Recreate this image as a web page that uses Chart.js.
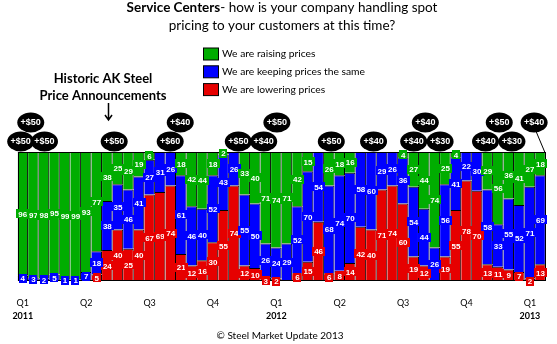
<!DOCTYPE html>
<html>
<head>
<meta charset="utf-8">
<script src="https://cdn.jsdelivr.net/npm/chart.js@4.4.1/dist/chart.umd.min.js"></script>
<style>
  html, body { margin: 0; padding: 0; background: #fff; }
</style>
</head>
<body>
<canvas id="myChart" width="557" height="344"></canvas>
<script>
// survey results, % of respondents, one entry per survey (50 surveys, Q1 2011 - Q1 2013)
const raising = [96, 97, 98, 95, 99, 99, 93, 77, 38, 25, 29, 19, 6, 0, 0, 18, 42, 44, 18, 2,
    0, 33, 40, 71, 74, 71, 42, 15, 0, 26, 18, 16, 0, 0, 0, 0, 4, 27, 44, 74,
    25, 4, 0, 0, 29, 56, 36, 41, 27, 18];
const keeping = [4, 3, 2, 5, 1, 1, 7, 18, 38, 35, 46, 41, 27, 31, 26, 61, 46, 40, 52, 43,
    26, 55, 50, 26, 24, 29, 52, 70, 54, 68, 74, 70, 58, 60, 29, 26, 36, 54, 44, 26,
    56, 41, 22, 30, 58, 33, 55, 52, 71, 69];
const lowering = [0, 0, 0, 0, 0, 0, 0, 5, 24, 40, 25, 40, 67, 69, 74, 21, 12, 16, 30, 55,
    74, 12, 10, 3, 2, 0, 6, 15, 46, 6, 8, 14, 42, 40, 71, 74, 60, 19, 12, 0,
    19, 55, 78, 70, 13, 11, 9, 7, 2, 13];

// tick labels, one every 6 surveys
const quarterTicks = ['Q1', 'Q2', 'Q3', 'Q4', 'Q1', 'Q2', 'Q3', 'Q4', 'Q1'];
const yearTicks = ['2011', '', '', '', '2012', '', '', '', '2013'];

// AK Steel price announcements (position in survey index units, row 0 = lower, 1 = upper)
const announcePos = [-0.2, 0.75, 2.05, 8.65, 13.95, 14.9, 20.4, 22.8, 24.05, 29.2, 33.2, 37.0, 38.1, 39.5, 43.8, 45.1, 46.3, 48.4];
const announceRow = [0, 1, 0, 0, 0, 1, 0, 0, 1, 0, 0, 0, 1, 0, 0, 1, 0, 1];
const announceText = ['+$50', '+$50', '+$50', '+$50', '+$60', '+$40', '+$50', '+$40', '+$50', '+$50', '+$40', '+$40', '+$40', '+$30', '+$40', '+$50', '+$30', '+$40'];

const green = '#00AD00';
const blue = '#0000FF';
const red = '#E60000';

const categories = raising.map((v, i) => i % 6 === 0 ? quarterTicks[i / 6] : '');

const textFont = 'Lato, "Liberation Sans", sans-serif';

const decorPlugin = {
    id: 'decor',
    afterDatasetsDraw(chart) {
        const ctx = chart.ctx;
        const area = chart.chartArea;
        ctx.save();

        // plot frame
        ctx.strokeStyle = '#000';
        ctx.lineWidth = 1;
        ctx.strokeRect(Math.round(area.left) + 0.5, Math.round(area.top) + 0.5,
            Math.round(area.right - area.left) - 1, Math.round(area.bottom - area.top) - 1);

        // value labels
        ctx.font = 'bold 8px "Liberation Sans", Arial, sans-serif';
        ctx.textAlign = 'center';
        ctx.textBaseline = 'middle';
        chart.data.datasets.forEach((ds, di) => {
            const meta = chart.getDatasetMeta(di);
            meta.data.forEach((bar, i) => {
                const v = ds.data[i];
                if (!v) return;
                let cy = (bar.y + bar.base) / 2;
                if (v < 5 && di === 0) cy += 1.5;
                const label = String(v);
                const w = ctx.measureText(label).width + 4;
                const h = 9;
                ctx.fillStyle = ds.backgroundColor;
                ctx.fillRect(Math.round(bar.x - w / 2), Math.round(cy - h / 2), Math.round(w), h);
                ctx.fillStyle = '#fff';
                ctx.fillText(label, bar.x, Math.round(cy) + 0.5);
            });
        });
        ctx.restore();
    },
    afterDraw(chart) {
        const ctx = chart.ctx;
        const area = chart.chartArea;
        const xs = chart.scales.x;
        ctx.save();

        // title
        ctx.fillStyle = '#000';
        ctx.textBaseline = 'middle';
        ctx.textAlign = 'left';
        const boldPart = 'Service Centers';
        const restPart = '- how is your company handling spot';
        ctx.font = 'bold 13.5px ' + textFont;
        const wb = ctx.measureText(boldPart).width;
        ctx.font = '13.5px ' + textFont;
        const wr = ctx.measureText(restPart).width;
        let tx = 282 - (wb + wr) / 2;
        ctx.font = 'bold 13.5px ' + textFont;
        ctx.fillText(boldPart, tx, 8);
        ctx.font = '13.5px ' + textFont;
        ctx.fillText(restPart, tx + wb, 8);
        ctx.textAlign = 'center';
        ctx.fillText('pricing to your customers at this time?', 282, 26);

        // legend
        const legendItems = [
            ['We are raising prices', green],
            ['We are keeping prices the same', blue],
            ['We are lowering prices', red]
        ];
        ctx.font = '10.3px ' + textFont;
        ctx.textAlign = 'left';
        legendItems.forEach((it, k) => {
            const y = 54 + k * 17.8;
            ctx.fillStyle = it[1];
            ctx.fillRect(203.5, y - 6, 15, 12);
            ctx.strokeStyle = '#000';
            ctx.lineWidth = 1;
            ctx.strokeRect(203.5, y - 6, 15, 12);
            ctx.fillStyle = '#000';
            ctx.fillText(it[0], 222, y);
        });

        // side caption + arrow
        ctx.font = 'bold 13px ' + textFont;
        ctx.textAlign = 'center';
        ctx.fillText('Historic AK Steel', 103, 79);
        ctx.fillText('Price Announcements', 103, 96);
        const ax = Math.round(xs.getPixelForValue(8.1)) + 0.5;
        ctx.strokeStyle = '#000';
        ctx.lineWidth = 1.5;
        ctx.beginPath();
        ctx.moveTo(ax, 103);
        ctx.lineTo(ax, 120);
        ctx.moveTo(ax - 3.5, 115);
        ctx.lineTo(ax, 120);
        ctx.lineTo(ax + 3.5, 115);
        ctx.stroke();

        // year row under the quarter ticks
        ctx.fillStyle = '#000';
        ctx.font = 'bold 9px ' + textFont;
        yearTicks.forEach((y, k) => {
            if (y) ctx.fillText(y, xs.getPixelForValue(k * 6), area.bottom + 34.6);
        });

        // announcement bubbles
        ctx.font = 'bold 9px "Liberation Sans", Arial, sans-serif';
        announcePos.forEach((p, k) => {
            const bx = xs.getPixelForValue(p);
            const by = area.top - (announceRow[k] ? 29.5 : 10.5);
            if (k === announcePos.length - 1) {
                ctx.strokeStyle = '#000';
                ctx.lineWidth = 1;
                ctx.beginPath();
                ctx.moveTo(bx + 2, by + 9);
                ctx.lineTo(area.right - 1, area.top);
                ctx.stroke();
            }
            ctx.fillStyle = '#000';
            ctx.beginPath();
            ctx.ellipse(bx, by, 13.5, 10, 0, 0, Math.PI * 2);
            ctx.fill();
            ctx.fillStyle = '#fff';
            ctx.fillText(announceText[k], bx, by + 0.5);
        });

        // footer
        ctx.fillStyle = '#000';
        ctx.font = '10px ' + textFont;
        ctx.fillText('\u00A9 Steel Market Update 2013', 280, 336);
        ctx.restore();
    }
};

const ctx = document.getElementById('myChart').getContext('2d');
new Chart(ctx, {
    type: 'bar',
    data: {
        labels: categories,
        datasets: [
            { label: 'We are lowering prices', data: lowering, backgroundColor: red },
            { label: 'We are keeping prices the same', data: keeping, backgroundColor: blue },
            { label: 'We are raising prices', data: raising, backgroundColor: green }
        ].map(d => Object.assign(d, {
            borderColor: '#000',
            borderWidth: { top: 1, right: 1, bottom: 0, left: 0 },
            borderSkipped: false,
            barPercentage: 1,
            categoryPercentage: 1,
            inflateAmount: 0
        }))
    },
    options: {
        responsive: false,
        animation: false,
        devicePixelRatio: 1,
        layout: { padding: { top: 152, left: 9, right: 3, bottom: 19 } },
        plugins: {
            legend: { display: false },
            title: { display: false },
            tooltip: { enabled: false }
        },
        scales: {
            x: {
                stacked: true,
                offset: true,
                grid: { display: false, drawTicks: false, offset: true },
                border: { display: false },
                ticks: {
                    autoSkip: false, maxRotation: 0, padding: 16.6, color: '#000',
                    font: { family: textFont, size: 9 }
                }
            },
            y: {
                stacked: true,
                min: 0,
                max: 100,
                display: false
            }
        }
    },
    plugins: [decorPlugin]
});
</script>
</body>
</html>
